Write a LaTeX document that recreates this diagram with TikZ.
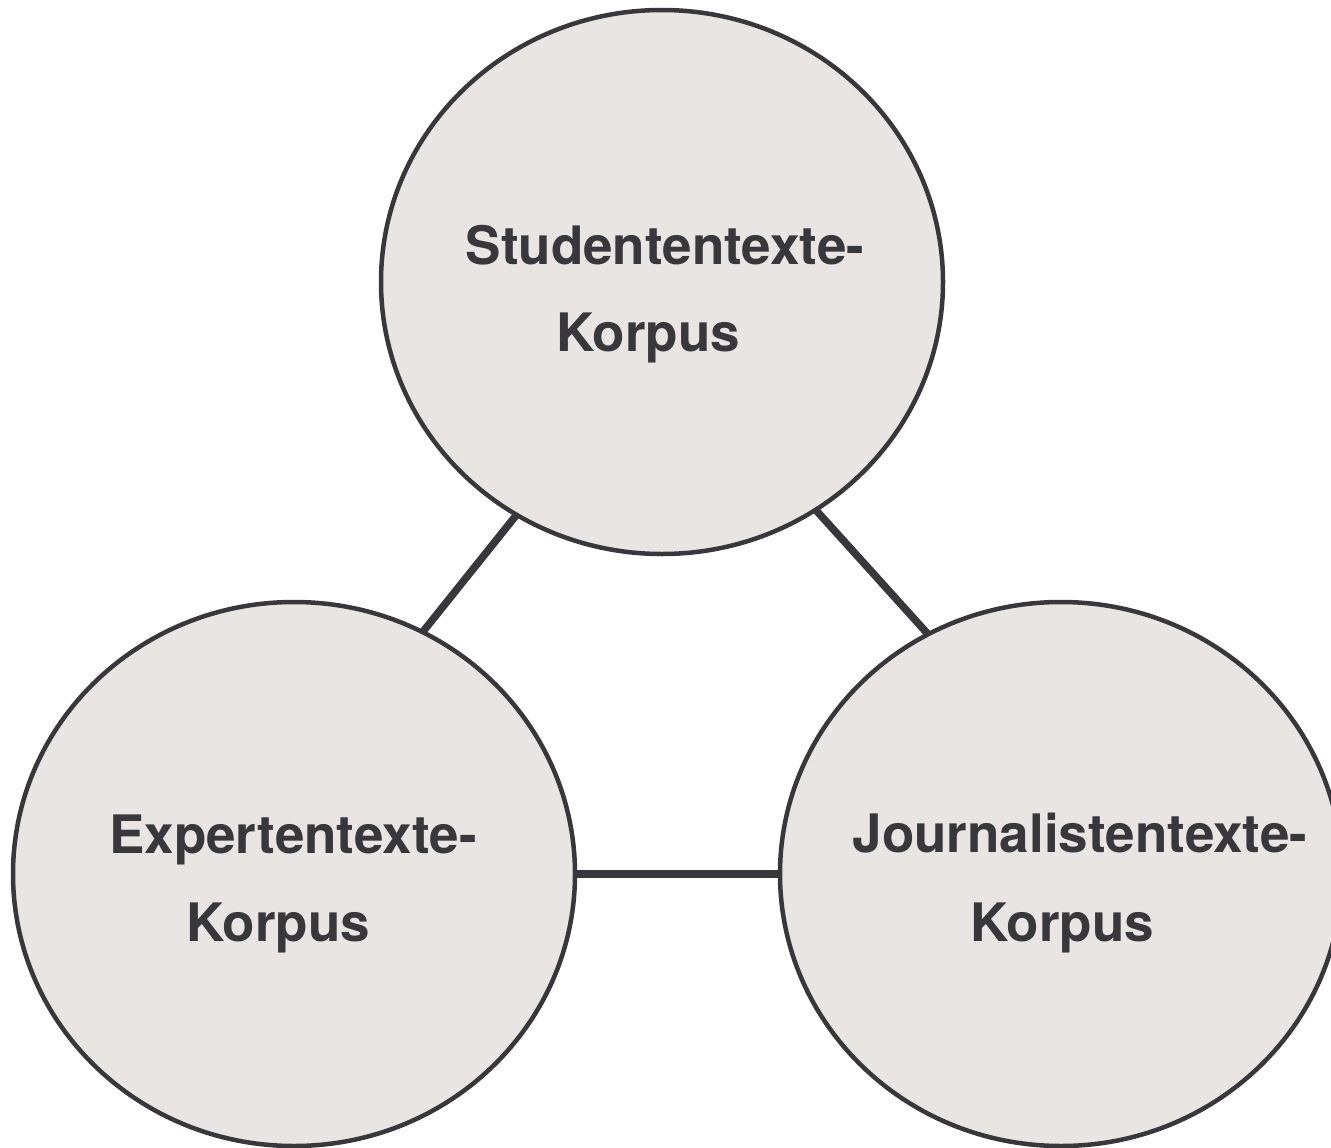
\documentclass[tikz,border=0pt]{standalone}
\usepackage{fontspec}
\setmainfont{TeX Gyre Heros}
\usetikzlibrary{shapes.geometric}
\definecolor{inkgray}{HTML}{38373C}
\definecolor{paper}{HTML}{E8E5E2}
\tikzset{
  corpus/.style={ellipse, draw=inkgray, line width=4.5pt, fill=paper,
    minimum width=562pt, minimum height=544pt, inner sep=0pt, outer sep=0pt},
  caption/.style={anchor=base, inner sep=0pt, text=inkgray,
    font=\fontsize{53}{60}\selectfont\bfseries},
  link/.style={draw=inkgray, line width=7.5pt}
}
\begin{document}
\begin{tikzpicture}[x=1pt, y=-1pt]
  \useasboundingbox (0,0) rectangle (1331,1148);
  \begin{scope}
    \clip (0,0) rectangle (1331,1148);
    % three corpus circles
    \node[corpus] (stud) at (662,282) {};
    \node[corpus] (expt) at (294,874) {};
    \node[corpus] (jour) at (1061,874) {};
    % connectors between the circles
    \draw[link] (stud.238.7) -- (expt.62.9);
    \draw[link] (stud.304.1) -- (jour.119.3);
    \draw[link] (expt.0) -- (jour.180);
    % labels
    \node[caption] (studA) at (665,264) {Studententexte-};
    \node[caption] (studB) at (648,351) {Korpus};
    \node[caption] (exptA) at (293,853) {Expertentexte-};
    \node[caption] (exptB) at (278,941) {Korpus};
    \node[caption] (jourA) at (1080,852) {Journalistentexte-};
    \node[caption] (jourB) at (1062,941) {Korpus};
  \end{scope}
\end{tikzpicture}
\end{document}
